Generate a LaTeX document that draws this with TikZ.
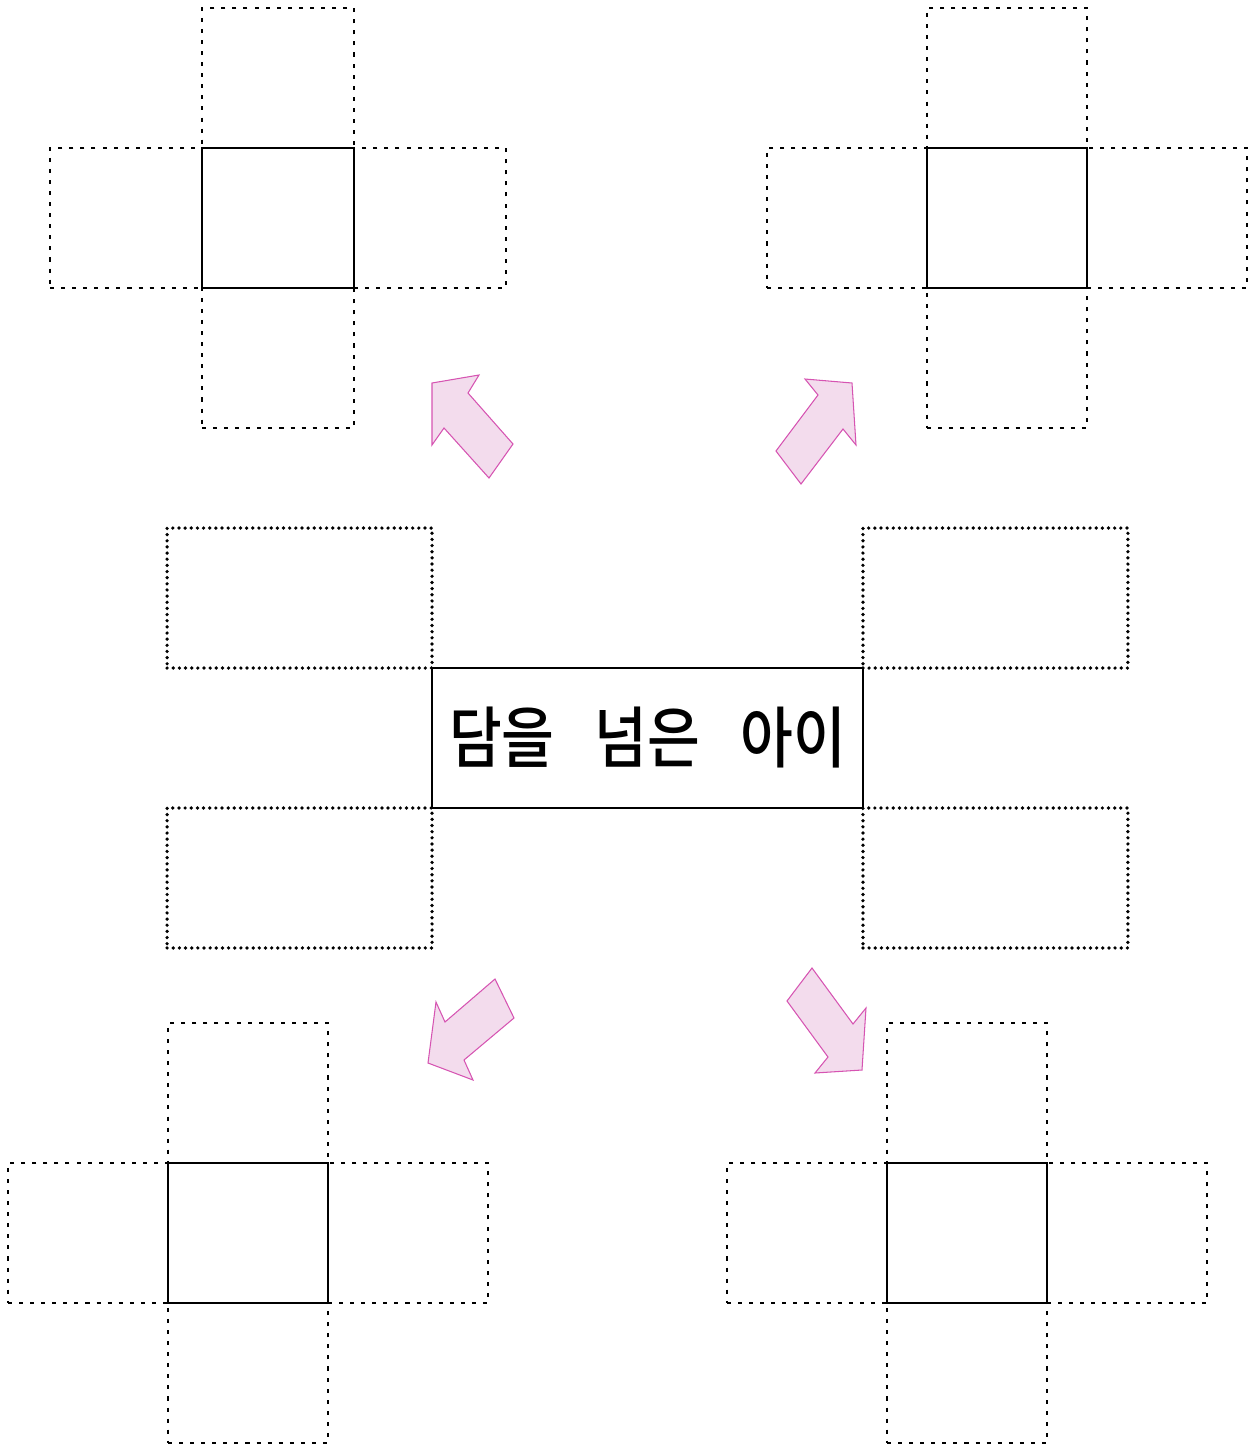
\documentclass[tikz,border=0pt]{standalone}
\usepackage{fontspec}
\newfontfamily\kofont{Noto Sans CJK KR}[BoldFont={Noto Sans CJK KR Medium},FakeStretch=0.86]
\usetikzlibrary{positioning}
\definecolor{arrowpink}{RGB}{243,220,237}
\definecolor{arrowedge}{RGB}{214,84,178}

\begin{document}
\begin{tikzpicture}[x=0.02cm,y=-0.02cm,line width=1.6pt,
  sqbox/.style={draw,outer sep=0pt,inner sep=0pt,minimum height=2.8cm},
  armbox/.style={draw,outer sep=0pt,inner sep=0pt,minimum height=2.8cm,dash pattern=on 2.3pt off 4pt},
  midbox/.style={draw,outer sep=0pt,inner sep=0pt,minimum width=5.3cm,minimum height=2.8cm,
    line width=2.1pt,line cap=round,dash pattern=on 0pt off 3.5pt},
  titlebox/.style={draw,outer sep=0pt,inner sep=0pt,minimum width=8.62cm,minimum height=2.8cm},
  blockarrow/.style={fill=arrowpink,draw=arrowedge,line width=0.6pt}]
\useasboundingbox (0,0) rectangle (1250,1445);
% ---------------- centre: title and its four boxes ----------------
\node[titlebox] (title) at (647.5,738)
  {\kofont\bfseries\fontsize{38}{44}\selectfont\raisebox{-0.08cm}{담을\hspace{0.8cm}넘은\hspace{0.8cm}아이}};
\node[midbox,anchor=south east] (boxnw) at (title.north west) {};
\node[midbox,anchor=north east] (boxsw) at (title.south west) {};
\node[midbox,anchor=south west] (boxne) at (title.north east) {};
\node[midbox,anchor=north west] (boxse) at (title.south east) {};
% ---------------- four crosses ----------------
\foreach \i/\cx/\cy/\w in {1/278/218/152,2/1007/218/160,3/248/1233/160,4/967/1233/160}{
  \node[sqbox,minimum width=\w*0.02cm] (sq\i) at (\cx,\cy) {};
  \node[armbox,minimum width=\w*0.02cm,above=0pt of sq\i] (up\i) {};
  \node[armbox,minimum width=\w*0.02cm,below=0pt of sq\i] (down\i) {};
  \node[armbox,minimum width=\w*0.02cm,left=0pt of sq\i] (left\i) {};
  \node[armbox,minimum width=\w*0.02cm,right=0pt of sq\i] (right\i) {};
}
% ---------------- block arrows ----------------
\draw[blockarrow] (432,383) -- (479,375) -- (468,393) -- (513,444) -- (489,478) -- (444,428) -- (432,445) -- cycle;
\draw[blockarrow] (805,379) -- (852,383) -- (856,445) -- (843,429) -- (801,484) -- (776,451) -- (818,395) -- cycle;
\draw[blockarrow] (495,979) -- (514,1018) -- (464,1060) -- (473,1080) -- (428,1063) -- (436,1002) -- (445,1022) -- cycle;
\draw[blockarrow] (812,968) -- (853,1024) -- (866,1008) -- (862,1070) -- (815,1073) -- (828,1057) -- (787,1001) -- cycle;
\end{tikzpicture}
\end{document}
